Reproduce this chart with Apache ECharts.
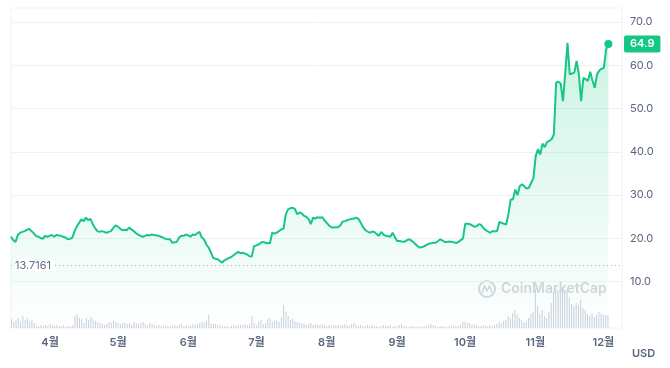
<!DOCTYPE html>
<html>
<head>
<meta charset="utf-8">
<script src="https://cdn.jsdelivr.net/npm/echarts@6/dist/echarts.min.js"></script>
<style>
html,body{margin:0;padding:0;background:#fff;}
#chart{width:670px;height:368px;}
</style>
</head>
<body>
<div id="chart"></div>
<script>
// ---- data (daily, 2024-03-15 .. 2024-12-03) ----
const startDate = '2024-03-15';
const axisMin = '2024-03-15';
const axisMax = '2024-12-09';
const prices = [
 20.4,19.6,19.2,20.8,21.3,21.5,21.7,22.0,22.2,21.7,
 21.2,20.6,20.4,20.1,19.9,20.6,20.4,20.6,20.8,20.4,
 20.8,20.7,20.6,20.4,20.2,19.8,19.9,20.2,21.7,22.8,
 23.6,24.4,24.0,24.8,24.2,24.5,23.3,22.4,21.7,21.5,
 21.7,21.5,21.3,21.5,21.7,22.4,23.0,22.7,22.3,21.9,
 22.0,21.9,22.5,22.1,21.7,21.2,20.9,20.6,20.4,20.6,
 20.8,20.7,20.9,20.8,20.7,20.6,20.4,20.2,19.9,19.8,
 19.8,19.0,19.1,19.2,20.2,20.6,20.6,20.9,20.7,20.4,
 20.9,20.8,21.2,21.5,20.2,19.8,18.6,17.9,16.8,15.5,
 15.3,15.2,14.8,14.4,15.0,15.2,15.5,15.7,16.1,16.5,
 16.9,16.6,16.7,16.5,16.3,15.9,15.8,18.2,18.4,18.6,
 19.0,19.2,19.0,18.9,18.9,21.3,21.1,21.3,21.7,22.1,
 22.3,25.6,26.7,27.0,27.1,26.8,25.6,26.0,25.8,25.2,
 25.0,24.5,23.3,24.8,24.6,24.9,24.8,24.9,24.2,23.6,
 23.0,22.6,22.5,22.6,22.6,23.0,23.9,24.0,24.2,24.4,
 24.5,24.6,24.8,24.5,23.6,22.6,21.9,21.6,21.3,21.6,
 21.5,21.0,20.6,21.5,20.9,20.6,20.5,20.4,21.3,20.3,
 19.4,19.4,19.3,19.2,19.5,19.8,19.6,19.2,18.7,18.2,
 17.9,18.0,18.2,18.5,18.8,18.9,19.0,19.0,19.4,19.8,
 19.5,19.2,19.2,19.3,19.2,19.1,18.9,19.2,19.6,20.0,
 23.4,23.4,23.3,23.0,22.7,22.8,23.3,23.1,22.4,21.9,
 21.6,21.3,21.7,21.6,21.7,23.8,23.6,23.4,23.2,25.6,
 29.0,29.0,31.3,30.0,32.1,32.5,32.0,31.5,31.7,32.8,
 34.0,39.0,40.6,39.4,41.9,41.1,42.3,42.5,42.9,44.0,
 56.0,56.2,55.8,51.7,58.0,65.2,57.9,58.1,58.3,61.0,
 58.0,51.7,57.1,56.8,56.4,58.5,56.5,54.8,57.9,58.8,
 59.2,59.4,63.7,64.9
];
// relative trading volume
const volumes = [
 9,6,8,10,6,12,8,10,7,8,5,
 2,2,3,2,3,2,4,3,2,3,2,2,3,1,2,2,
 3,12,14,10,9,5,10,8,11,9,7,
 6,5,4,3,4,6,5,7,6,5,4,5,6,4,5,3,6,5,4,5,6,4,3,5,4,3,2,3,2,2,3,2,2,2,3,2,3,4,2,3,2,3,4,3,4,5,
 6,5,7,13,
 5,4,4,3,3,2,2,2,1,2,3,2,3,3,3,4,
 3,4,12,5,3,6,8,4,5,9,10,6,7,8,6,11,23,16,12,8,
 9,7,6,5,5,4,3,4,5,3,4,3,3,4,3,2,3,3,2,3,
 3,2,3,4,3,2,4,5,3,2,3,2,2,3,2,3,2,2,1,2,3,2,2,3,1,2,2,3,4,2,2,1,2,2,1,2,1,1,2,2,3,4,3,2,1,2,2,1,1,2,2,3,2,2,3,
 6,6,5,5,3,4,3,
 2,2,3,2,2,3,2,3,4,6,5,7,
 8,12,10,15,18,14,10,8,5,6,10,14,16,
 39,
 22,14,18,12,10,16,
 25,36,39,38,37,39,36,39,30,
 24,22,25,23,28,20,18,
 14,12,15,11,13,16,14,13,13,13
];
const minMarker = 13.7161;
const monthSuffix = '월';
const unitLabel = 'USD';
const watermark = 'CoinMarketCap';

// build dates
const dates = [];
{
  const p = startDate.split('-').map(Number);
  for (let i = 0; i < prices.length; i++) {
    const d = new Date(p[0], p[1]-1, p[2] + i);
    dates.push(d.getTime());
  }
}
const priceData = prices.map((v,i)=>[dates[i], v]);
const volData = volumes.map((v,i)=>[dates[i], v]);
const last = prices.length - 1;

const FONT = 'Inter, "Noto Sans CJK KR", "Noto Sans", sans-serif';
const GREEN = '#16c784';
const GRAY = '#58667e';
const DAY = 86400000;

const chart = echarts.init(document.getElementById('chart'), null, {renderer:'canvas'});
chart.setOption({
  animation:false,
  textStyle:{fontFamily:FONT},
  title:{text:unitLabel, left:627, top:343, textStyle:{fontSize:11, fontWeight:600, color:GRAY, fontFamily:FONT}},
  graphic:[
    {type:'circle', z:0, shape:{cx:487, cy:289, r:8}, style:{stroke:'#d3d8e0', lineWidth:2, fill:'none'}},
    {type:'polyline', z:0, shape:{points:[[482,293],[484.5,286],[487,291],[489.5,286],[492,293]]}, style:{stroke:'#d3d8e0', lineWidth:1.6, fill:'none'}},
    {type:'text', z:0, style:{text:watermark, x:501, y:289, textVerticalAlign:'middle', font:'600 14px '+FONT, fill:'#d3d8e0'}}
  ],
  grid:[
    {left:11, right:48, top:22, bottom:43},
    {left:11, right:48, top:8, bottom:40, show:true, borderColor:'#eff2f5', borderWidth:1, backgroundColor:'rgba(0,0,0,0)'}
  ],
  xAxis:[
    {type:'time', gridIndex:0, min:axisMin, max:axisMax, axisLine:{show:false}, axisTick:{show:false}, axisLabel:{show:false}, splitLine:{show:false}},
    {type:'time', gridIndex:1, min:axisMin, max:axisMax, minInterval:28*DAY, maxInterval:31*DAY,
     axisLine:{show:false}, axisTick:{show:false}, splitLine:{show:false},
     axisLabel:{color:GRAY, fontSize:11, fontWeight:600, margin:9, fontFamily:FONT, showMinLabel:false, showMaxLabel:false,
       formatter:function(v){ return (new Date(v).getMonth()+1) + monthSuffix; }}}
  ],
  yAxis:[
    {type:'value', gridIndex:0, position:'right', min:0, max:70, interval:10,
     axisLine:{show:false}, axisTick:{show:false},
     axisLabel:{color:GRAY, fontSize:11, margin:8, showMinLabel:false, fontFamily:FONT, formatter:function(v){return v.toFixed(1);}},
     splitLine:{show:true, showMinLine:false, lineStyle:{color:'#eff2f5', width:1}}},
    {type:'value', gridIndex:1, min:0, max:320, show:false, splitLine:{show:false}}
  ],
  series:[
    {type:'bar', xAxisIndex:1, yAxisIndex:1, data:volData, barWidth:1, itemStyle:{color:'#c9d0dc'}, silent:true, z:2},
    {type:'line', xAxisIndex:0, yAxisIndex:0, data:priceData, showSymbol:false, symbol:'none',
     lineStyle:{color:GREEN, width:2}, z:3,
     areaStyle:{color:new echarts.graphic.LinearGradient(0,0,0,1,[{offset:0,color:'rgba(22,199,132,0.30)'},{offset:1,color:'rgba(22,199,132,0.01)'}])},
     markPoint:{silent:true, symbol:'circle', symbolSize:8, itemStyle:{color:GREEN}, label:{show:false},
       data:[{coord:[dates[last], prices[last]]}]},
     markLine:{silent:true, symbol:['none','none'], animation:false,
       data:[
         {yAxis:minMarker, lineStyle:{type:[1,3], color:'#a6b0c3', width:1},
          label:{position:'insideStart', distance:4, formatter:function(){return String(minMarker);}, color:'#616e85', fontSize:11, fontFamily:FONT, backgroundColor:'#fff', padding:[0,4,0,0]}},
         {yAxis:prices[last], lineStyle:{color:'rgba(255,255,255,0)', width:0},
          label:{show:true, position:'end', distance:2, formatter:function(p){return p.value.toFixed(1);}, color:'#fff', fontSize:11, fontWeight:600, fontFamily:FONT, backgroundColor:GREEN, padding:[3,6,3,6], borderRadius:2}}
       ]}
    }
  ]
});
</script>
</body>
</html>
